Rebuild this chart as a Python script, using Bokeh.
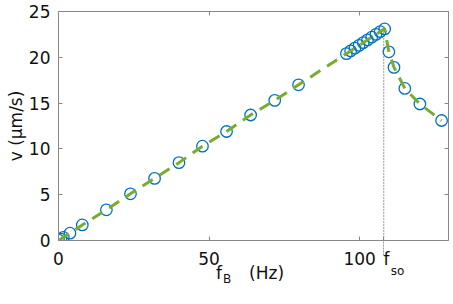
from bokeh.plotting import figure
from bokeh.models import Range1d, LinearAxis, FixedTicker
from bokeh.embed import file_html
from bokeh.resources import INLINE

# data
f_B = [0.0, 0.8, 1.6, 3.8, 7.9, 15.9, 23.9, 31.9, 40.0, 47.8, 55.8, 63.8, 71.8, 79.7,
       95.6, 97.0, 98.4, 99.8, 101.2, 102.6, 104.0, 105.4, 106.8, 108.3,
       109.7, 111.4, 115.0, 120.0, 127.2]
v = [0.05, 0.15, 0.35, 0.8, 1.7, 3.35, 5.1, 6.78, 8.5, 10.3, 11.9, 13.7, 15.3, 17.0,
     20.4, 20.7, 21.0, 21.3, 21.6, 21.9, 22.2, 22.5, 22.8, 23.1,
     20.6, 18.9, 16.6, 14.9, 13.1]
f_so = 108.0
x_ticks = [0, 50, 100]
y_ticks = [0, 5, 10, 15, 20, 25]
y_label = "v (μm/s)"
x_label_parts = ["f", "(Hz)"]   # main part of "f_B (Hz)"
x_label_sub = "B"
f_so_parts = ["\u00a0f", "so"]

FONT = "DejaVu Sans"
AX = "#888888"
TXT = "#111111"

p = figure(width=453, height=304, output_backend="svg", toolbar_location=None,
           x_range=Range1d(0, 129.5), y_range=Range1d(0, 25),
           min_border_left=58, min_border_right=5, min_border_top=11, min_border_bottom=64)
p.outline_line_color = None
p.xgrid.visible = False
p.ygrid.visible = False

def style(ax, size="17px"):
    ax.axis_line_color = AX
    ax.major_tick_line_color = AX
    ax.minor_tick_line_color = None
    ax.major_tick_in = 4
    ax.major_tick_out = 0
    ax.major_label_text_font = FONT
    ax.major_label_text_color = TXT
    ax.major_label_text_font_size = size

def hidden_ax(ax):
    ax.axis_line_color = None
    ax.major_tick_line_color = None
    ax.minor_tick_line_color = None

# main bottom axis (with f_so tick and its dotted extension as a minor tick)
xa = p.xaxis[0]
style(xa)
xa.ticker = FixedTicker(ticks=x_ticks + [f_so], minor_ticks=[f_so])
xa.major_label_overrides = {f_so: f_so_parts[0]}
xa.minor_tick_line_color = "#999999"
xa.minor_tick_line_dash = "2 1"
xa.minor_tick_in = 0
xa.minor_tick_out = 15
xa.major_label_standoff = -7

ya = p.yaxis[0]
style(ya)
ya.ticker = FixedTicker(ticks=y_ticks)
ya.major_label_standoff = 8
ya.axis_label = y_label
ya.axis_label_text_font = FONT
ya.axis_label_text_font_size = "17px"
ya.axis_label_text_font_style = "normal"
ya.axis_label_text_color = TXT
ya.axis_label_standoff = 0

# box: top and right axes without labels
for side, ticks in (("above", x_ticks), ("right", y_ticks)):
    ax = LinearAxis(ticker=FixedTicker(ticks=ticks))
    style(ax, "0px")
    ax.major_label_text_color = None
    ax.major_label_standoff = 0
    p.add_layout(ax, side)

# x label "f (Hz)" row (17px)
xb = LinearAxis(ticker=FixedTicker(ticks=[53.3, 69.1]))
style(xb); hidden_ax(xb)
xb.major_label_overrides = {53.3: x_label_parts[0], 69.1: x_label_parts[1]}
xb.major_label_standoff = -9
p.add_layout(xb, "below")

# subscript rows (12px)
xc = LinearAxis(ticker=FixedTicker(ticks=[112.6]))
style(xc, "12px"); hidden_ax(xc)
xc.major_label_overrides = {112.6: f_so_parts[1]}
xc.major_label_standoff = -22
p.add_layout(xc, "below")

xd = LinearAxis(ticker=FixedTicker(ticks=[56.0]))
style(xd, "12px"); hidden_ax(xd)
xd.major_label_overrides = {56.0: x_label_sub}
xd.major_label_standoff = -14
p.add_layout(xd, "below")

# vertical f_so marker inside the frame
p.segment(x0=[f_so], y0=[max(v)], x1=[f_so], y1=[0], line_color="#999999",
          line_width=1, line_dash="2 1")

p.scatter(f_B, v, size=11.5, marker="circle", fill_color=None, line_color="#0072BD", line_width=1.3)
p.line(f_B, v, line_color="#77AC30", line_width=3, line_dash="12 8")

open("out.html", "w").write(file_html(p, INLINE))
